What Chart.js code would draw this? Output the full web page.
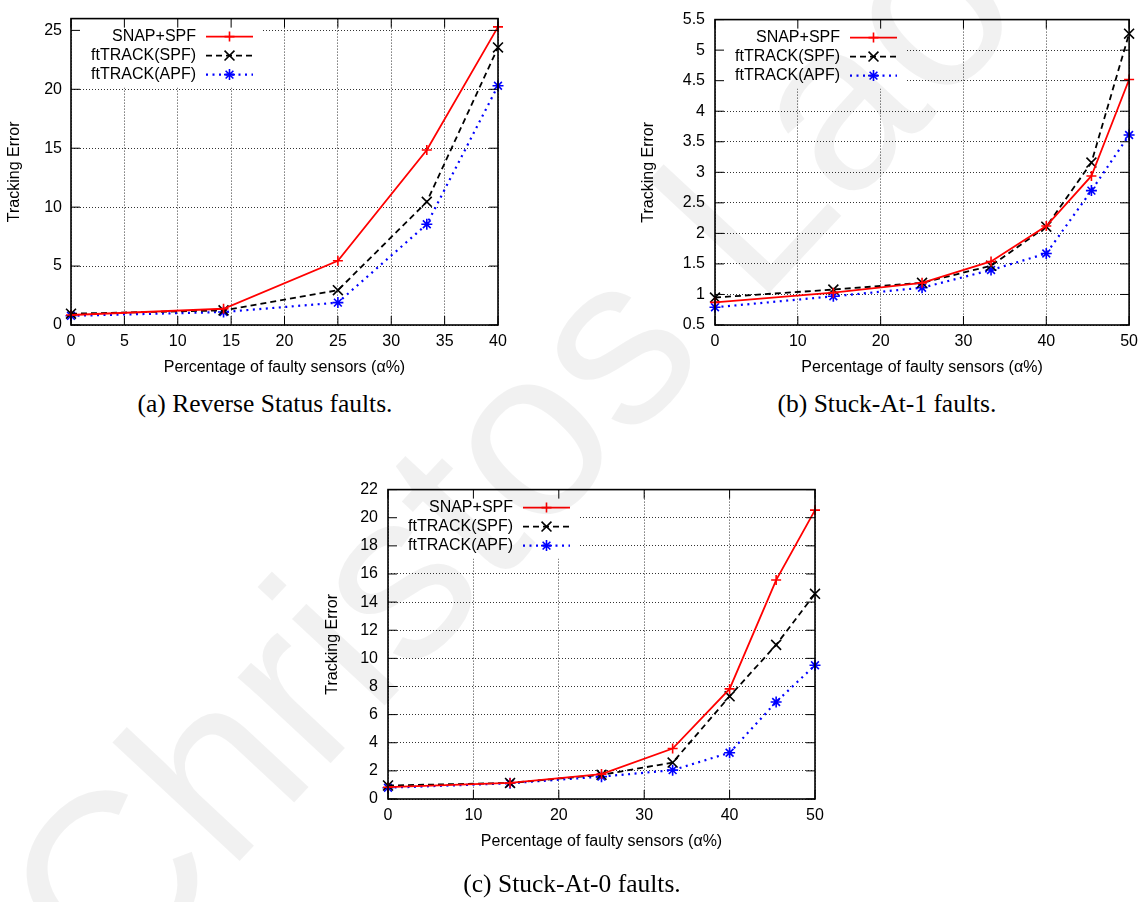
<!DOCTYPE html>
<html>
<head>
<meta charset="utf-8">
<script src="https://cdn.jsdelivr.net/npm/chart.js@4.4.1/dist/chart.umd.min.js"></script>
<style>
  html, body { margin: 0; padding: 0; background: #fff; }
  body { width: 1145px; height: 902px; position: relative; overflow: hidden; }
  canvas { position: absolute; }
  .caption {
    position: absolute;
    font-family: "Liberation Serif", "DejaVu Serif", serif;
    font-size: 25.5px;
    color: #000;
    white-space: nowrap;
    transform: translate(-50%, -50%);
  }
  #mark { position: absolute; left: 0; top: 0; pointer-events: none; }
</style>
</head>
<body>
<canvas id="chartA" width="540" height="380" style="left:0;top:0"></canvas>
<canvas id="chartB" width="545" height="380" style="left:600px;top:0"></canvas>
<canvas id="chartC" width="560" height="430" style="left:300px;top:470px"></canvas>

<div class="caption" style="left:265px;top:404px">(a) Reverse Status faults.</div>
<div class="caption" style="left:887px;top:404px">(b) Stuck-At-1 faults.</div>
<div class="caption" style="left:572px;top:884px">(c) Stuck-At-0 faults.</div>

<svg id="mark" width="1145" height="902">
  <text x="110" y="1000" transform="rotate(-47 110 1000)"
        font-family="Liberation Sans, Arial, sans-serif" font-size="240"
        fill="rgba(0,0,0,0.055)">Christos Laoudias</text>
</svg>

<script>
// series names shared by all three panels
const seriesNames = ['SNAP+SPF', 'ftTRACK(SPF)', 'ftTRACK(APF)'];

// (a) Reverse Status faults
const faultsA = [0, 14.29, 25, 33.33, 40];
const snapA = [0.85, 1.38, 5.45, 14.85, 25.3];
const spfA  = [0.96, 1.24, 2.95, 10.45, 23.55];
const apfA  = [0.78, 1.1, 1.9, 8.55, 20.3];
const xTicksA = [0, 5, 10, 15, 20, 25, 30, 35, 40];
const yTicksA = [0, 5, 10, 15, 20, 25];

// (b) Stuck-At-1 and (c) Stuck-At-0 faults
const faultsBC = [0, 14.29, 25, 33.33, 40, 45.45, 50];
const snapB = [0.87, 1.03, 1.19, 1.54, 2.12, 2.94, 4.52];
const spfB  = [0.95, 1.08, 1.19, 1.47, 2.11, 3.16, 5.27];
const apfB  = [0.79, 0.97, 1.11, 1.40, 1.67, 2.70, 3.61];
const snapC = [0.84, 1.14, 1.77, 3.59, 7.83, 15.57, 20.54];
const spfC  = [0.96, 1.14, 1.72, 2.59, 7.30, 10.96, 14.59];
const apfC  = [0.80, 1.12, 1.59, 2.05, 3.29, 6.90, 9.51];
const xTicksBC = [0, 10, 20, 30, 40, 50];
const yTicksB = [0.5, 1, 1.5, 2, 2.5, 3, 3.5, 4, 4.5, 5, 5.5];
const yTicksC = [0, 2, 4, 6, 8, 10, 12, 14, 16, 18, 20, 22];

// gnuplot-ish line styles
const styles = [
  { color: '#ff0000', width: 1.8, dash: [], point: 'cross', radius: 5 },
  { color: '#000000', width: 1.8, dash: [6, 4], point: 'crossRot', radius: 7 },
  { color: '#0000ff', width: 2.2, dash: [2, 4.5], point: 'star', radius: 5.5 }
];

const FONT = { family: '"Liberation Sans", Arial, sans-serif', size: 16 };

// frame, mirrored inner ticks, key box
const gnuplotFrame = {
  id: 'gnuplotFrame',
  beforeDatasetsDraw(chart) {
    const { ctx, chartArea: a } = chart;
    ctx.save();
    ctx.fillStyle = '#fff';
    ctx.fillRect(a.left + 1, a.top + 1, 190, 68);
    ctx.restore();
  },
  afterDraw(chart) {
    const { ctx, chartArea: a, scales } = chart;
    ctx.save();
    ctx.strokeStyle = '#000';
    ctx.lineWidth = 1;
    ctx.setLineDash([]);
    const len = 9;
    ctx.beginPath();
    scales.x.ticks.forEach(t => {
      const px = scales.x.getPixelForValue(t.value);
      ctx.moveTo(px, a.bottom); ctx.lineTo(px, a.bottom - len);
      ctx.moveTo(px, a.top); ctx.lineTo(px, a.top + len);
    });
    scales.y.ticks.forEach(t => {
      const py = scales.y.getPixelForValue(t.value);
      ctx.moveTo(a.left, py); ctx.lineTo(a.left + len, py);
      ctx.moveTo(a.right, py); ctx.lineTo(a.right - len, py);
    });
    ctx.stroke();
    ctx.lineWidth = 1.6;
    ctx.strokeRect(a.left, a.top, a.right - a.left, a.bottom - a.top);

    // key
    ctx.font = FONT.size + 'px ' + FONT.family;
    ctx.textAlign = 'right';
    ctx.textBaseline = 'middle';
    chart.data.datasets.forEach((ds, i) => {
      const st = styles[i];
      const y = a.top + 18 + 19 * i;
      ctx.fillStyle = '#000';
      ctx.fillText(ds.label, a.left + 125, y);
      ctx.strokeStyle = st.color;
      ctx.lineWidth = st.width;
      ctx.setLineDash(st.dash);
      ctx.beginPath();
      ctx.moveTo(a.left + 135, y);
      ctx.lineTo(a.left + 182, y);
      ctx.stroke();
      ctx.setLineDash([]);
      ctx.lineWidth = 1.6;
      Chart.helpers.drawPoint(ctx, { pointStyle: st.point, radius: st.radius, rotation: 0, borderWidth: 1.6 }, a.left + 158.5, y);
    });
    ctx.restore();
  }
};

function makeChart(id, xs, series, xTicks, yTicks, xMax, yMin, yMax, geom) {
  const datasets = series.map((vals, i) => ({
    label: seriesNames[i],
    data: xs.map((x, j) => ({ x: x, y: vals[j] })),
    borderColor: styles[i].color,
    borderWidth: styles[i].width,
    borderDash: styles[i].dash,
    pointStyle: styles[i].point,
    pointRadius: styles[i].radius,
    pointBorderColor: styles[i].color,
    pointBorderWidth: 1.6,
    pointBackgroundColor: styles[i].color,
    tension: 0,
    fill: false,
    clip: false
  }));

  return new Chart(document.getElementById(id), {
    type: 'line',
    data: { datasets: datasets },
    options: {
      responsive: false,
      animation: false,
      devicePixelRatio: 1,
      layout: { padding: geom.pad },
      plugins: { legend: { display: false }, tooltip: { enabled: false } },
      scales: {
        x: {
          type: 'linear',
          min: 0,
          max: xMax,
          afterBuildTicks: s => { s.ticks = xTicks.map(v => ({ value: v })); },
          afterFit: s => { s.height = 55; },
          grid: { color: '#333', lineWidth: 1, drawTicks: false },
          border: { display: false, dash: [1, 2] },
          ticks: { padding: 7, font: FONT, color: '#000', maxRotation: 0, autoSkip: false, callback: v => String(v) },
          title: { display: true, text: 'Percentage of faulty sensors (α%)', font: FONT, color: '#000', padding: { top: 4, bottom: 3 } }
        },
        y: {
          type: 'linear',
          min: yMin,
          max: yMax,
          afterBuildTicks: s => { s.ticks = yTicks.map(v => ({ value: v })); },
          afterFit: s => { s.width = geom.yWidth; },
          grid: { color: '#333', lineWidth: 1, drawTicks: false },
          border: { display: false, dash: [1, 2] },
          ticks: { padding: geom.yPad, font: FONT, color: '#000', autoSkip: false, callback: v => String(v) },
          title: { display: true, text: 'Tracking Error', font: FONT, color: '#000', padding: { top: 5, bottom: 4 } }
        }
      }
    },
    plugins: [gnuplotFrame]
  });
}

makeChart('chartA', faultsA, [snapA, spfA, apfA], xTicksA, yTicksA, 40, 0, 26,
  { pad: { left: 0, right: 42, top: 11, bottom: 0 }, yWidth: 71, yPad: 9 });
makeChart('chartB', faultsBC, [snapB, spfB, apfB], xTicksBC, yTicksB, 50, 0.5, 5.5,
  { pad: { left: 34, right: 11, top: 11, bottom: 0 }, yWidth: 81, yPad: 10 });
makeChart('chartC', faultsBC, [snapC, spfC, apfC], xTicksBC, yTicksC, 50, 0, 22,
  { pad: { left: 18, right: 45, top: 14, bottom: 46 }, yWidth: 70, yPad: 10 });
</script>
</body>
</html>
